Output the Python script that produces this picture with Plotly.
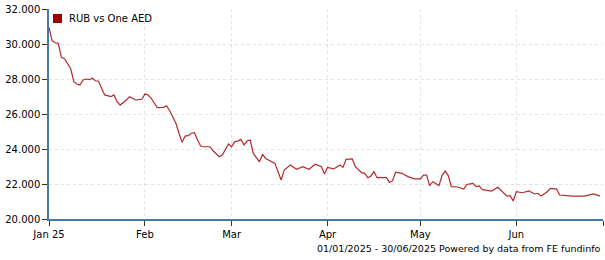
import plotly.graph_objects as go

dates = [
    "2025-01-01", "2025-01-02", "2025-01-03", "2025-01-04", "2025-01-05", "2025-01-06",
    "2025-01-08", "2025-01-09", "2025-01-10", "2025-01-11", "2025-01-12", "2025-01-13",
    "2025-01-14", "2025-01-15", "2025-01-16", "2025-01-17", "2025-01-18", "2025-01-19",
    "2025-01-21", "2025-01-22", "2025-01-23", "2025-01-24", "2025-01-26", "2025-01-27",
    "2025-01-29", "2025-01-30", "2025-01-31",
    "2025-02-01", "2025-02-02", "2025-02-03", "2025-02-04", "2025-02-05", "2025-02-07",
    "2025-02-08", "2025-02-09", "2025-02-10", "2025-02-11", "2025-02-12", "2025-02-13",
    "2025-02-14", "2025-02-15", "2025-02-16", "2025-02-17", "2025-02-18", "2025-02-19",
    "2025-02-20", "2025-02-22", "2025-02-23", "2025-02-24", "2025-02-25", "2025-02-26",
    "2025-02-27", "2025-02-28",
    "2025-03-01", "2025-03-02", "2025-03-03", "2025-03-04", "2025-03-05", "2025-03-06",
    "2025-03-07", "2025-03-08", "2025-03-10", "2025-03-11", "2025-03-12", "2025-03-14",
    "2025-03-15", "2025-03-16", "2025-03-17", "2025-03-18", "2025-03-20", "2025-03-22",
    "2025-03-24", "2025-03-26", "2025-03-28", "2025-03-30", "2025-03-31",
    "2025-04-01", "2025-04-03", "2025-04-05", "2025-04-06", "2025-04-07", "2025-04-09",
    "2025-04-10", "2025-04-12", "2025-04-13", "2025-04-14", "2025-04-15", "2025-04-16",
    "2025-04-17", "2025-04-20", "2025-04-21", "2025-04-22", "2025-04-23", "2025-04-25",
    "2025-04-27", "2025-04-29",
    "2025-05-01", "2025-05-02", "2025-05-03", "2025-05-04", "2025-05-05", "2025-05-07",
    "2025-05-08", "2025-05-09", "2025-05-10", "2025-05-11", "2025-05-13", "2025-05-15",
    "2025-05-16", "2025-05-18", "2025-05-19", "2025-05-20", "2025-05-21", "2025-05-24",
    "2025-05-26", "2025-05-27", "2025-05-29", "2025-05-30", "2025-05-31",
    "2025-06-01", "2025-06-03", "2025-06-05", "2025-06-07", "2025-06-08", "2025-06-09",
    "2025-06-11", "2025-06-12", "2025-06-14", "2025-06-15", "2025-06-19", "2025-06-23",
    "2025-06-26", "2025-06-27", "2025-06-28",
]

rub_per_aed = [
    30.95, 30.19, 30.07, 30.04, 29.24, 29.16,
    28.60, 27.85, 27.71, 27.66, 27.94, 28.00,
    27.96, 28.04, 27.90, 27.87, 27.47, 27.09,
    26.99, 27.09, 26.70, 26.51, 26.80, 26.99,
    26.80, 26.84, 26.84,
    27.14, 27.10, 26.90, 26.65, 26.36, 26.38,
    26.47, 26.19, 25.85, 25.47, 24.90, 24.38,
    24.74, 24.76, 24.90, 24.93, 24.51, 24.17,
    24.13, 24.13, 23.90, 23.71, 23.56, 23.66,
    23.94, 24.29,
    24.13, 24.42, 24.45, 24.55, 24.23, 24.47,
    24.51, 23.75, 23.27, 23.69, 23.46, 23.24,
    23.18, 22.70, 22.23, 22.80, 23.09, 22.84,
    22.99, 22.84, 23.13, 22.99, 22.57,
    22.95, 22.86, 23.09, 22.95, 23.41, 23.43,
    22.99, 22.65, 22.61, 22.36, 22.46, 22.70,
    22.36, 22.36, 22.09, 22.19, 22.67, 22.61,
    22.42, 22.29,
    22.29, 22.51, 22.51, 21.91, 22.13, 21.91,
    22.48, 22.74, 22.48, 21.85, 21.83, 21.71,
    21.97, 22.04, 21.85, 21.89, 21.68, 21.60,
    21.81, 21.66, 21.31, 21.33, 21.03,
    21.56, 21.50, 21.60, 21.43, 21.47, 21.31,
    21.56, 21.75, 21.71, 21.37, 21.31, 21.31,
    21.43, 21.37, 21.31,
]

tick_dates = ["2025-01-01", "2025-02-01", "2025-03-01", "2025-04-01",
              "2025-05-01", "2025-06-01", "2025-06-29"]
tick_labels = ["Jan 25", "Feb", "Mar", "Apr", "May", "Jun", ""]

y_ticks = [20, 22, 24, 26, 28, 30, 32]
y_labels = ["20.000", "22.000", "24.000", "26.000", "28.000", "30.000", "32.000"]

series_name = "RUB vs One AED"
footer = "01/01/2025 - 30/06/2025 Powered by data from FE fundinfo"

FONT = "DejaVu Sans"
AXIS = "#4a76a6"
GRID = "#e2e2e2"

fig = go.Figure()
fig.add_trace(go.Scatter(
    x=dates, y=rub_per_aed, mode="lines", name=series_name,
    line=dict(color="#b22a2e", width=1.2), showlegend=False,
))

fig.update_layout(
    width=605, height=260,
    margin=dict(l=49, r=2, t=9, b=41),
    paper_bgcolor="white", plot_bgcolor="white",
    font=dict(family=FONT, size=10, color="#000000"),
    xaxis=dict(
        type="date", range=["2025-01-01", "2025-06-29"],
        tickmode="array", tickvals=tick_dates, ticktext=tick_labels,
        showline=True, linecolor=AXIS, linewidth=1.5,
        ticks="outside", ticklen=5, tickcolor="#333333", tickwidth=1,
        showgrid=True, gridcolor=GRID, griddash="dot", gridwidth=1,
        zeroline=False, tickfont=dict(family=FONT, size=10, color="#000"),
    ),
    yaxis=dict(
        range=[20, 32], tickmode="array", tickvals=y_ticks, ticktext=y_labels,
        showline=True, linecolor=AXIS, linewidth=1.5,
        ticks="outside", ticklen=5, tickcolor="#333333", tickwidth=1,
        showgrid=True, gridcolor=GRID, griddash="dot", gridwidth=1,
        zeroline=False, tickfont=dict(family=FONT, size=10, color="#000"),
    ),
    shapes=[dict(
        type="rect", xref="paper", yref="paper",
        x0=4 / 554, x1=13 / 554, y0=1 - 14 / 210, y1=1 - 5 / 210,
        fillcolor="#a00000", line=dict(width=0),
    )],
    annotations=[
        dict(text=series_name, xref="paper", yref="paper",
             x=18 / 554, y=1 - 9.5 / 210, xanchor="left", yanchor="middle",
             showarrow=False, font=dict(family=FONT, size=10, color="#000")),
        dict(text=footer, xref="paper", yref="paper",
             x=1.0, y=-29 / 210, xanchor="right", yanchor="middle",
             showarrow=False, font=dict(family=FONT, size=9.5, color="#000")),
    ],
)

fig.write_html("out.html")
